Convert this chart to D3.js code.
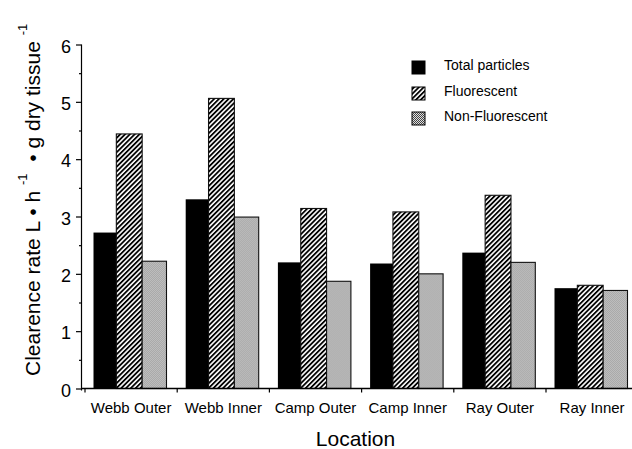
<!DOCTYPE html>
<html>
<head>
<meta charset="utf-8">
<script src="https://cdn.jsdelivr.net/npm/d3@7"></script>
<style>
  html, body { margin: 0; padding: 0; background: #fff; }
  svg { display: block; font-family: "Liberation Sans", Arial, Helvetica, sans-serif; }
</style>
</head>
<body>
<svg id="chart" width="632" height="449"></svg>
<script>
const locations = ["Webb Outer", "Webb Inner", "Camp Outer", "Camp Inner", "Ray Outer", "Ray Inner"];
const seriesNames = ["Total particles", "Fluorescent", "Non-Fluorescent"];
const totalParticles = [2.72, 3.30, 2.20, 2.18, 2.37, 1.75];
const fluorescent    = [4.44, 5.06, 3.14, 3.08, 3.37, 1.80];
const nonFluorescent = [2.22, 2.99, 1.87, 2.00, 2.20, 1.71];
const yTicks = [0, 1, 2, 3, 4, 5, 6];
const yMinorTicks = [0.5, 1.5, 2.5, 3.5, 4.5, 5.5];

const seriesValues = [totalParticles, fluorescent, nonFluorescent];
const fills = ["#000", "url(#hatch)", "url(#checker)"];
const legendFills = ["#000", "url(#hatch)", "url(#checkerStrong)"];

const svg = d3.select("#chart");
const defs = svg.append("defs");

// diagonal hatch "///"
const hatch = defs.append("pattern")
  .attr("id", "hatch").attr("patternUnits", "userSpaceOnUse")
  .attr("width", 3.4).attr("height", 3.4)
  .attr("patternTransform", "rotate(45)");
hatch.append("rect").attr("width", 3.4).attr("height", 3.4).attr("fill", "#fff");
hatch.append("rect").attr("width", 1.8).attr("height", 3.4).attr("fill", "#000");

// fine checker (grey)
const checker = defs.append("pattern")
  .attr("id", "checker").attr("patternUnits", "userSpaceOnUse")
  .attr("width", 2).attr("height", 2);
checker.append("rect").attr("width", 2).attr("height", 2).attr("fill", "#bdbdbd");
checker.append("rect").attr("width", 1).attr("height", 1).attr("fill", "#aaaaaa");
checker.append("rect").attr("x", 1).attr("y", 1).attr("width", 1).attr("height", 1).attr("fill", "#aaaaaa");

const checker2 = defs.append("pattern")
  .attr("id", "checkerStrong").attr("patternUnits", "userSpaceOnUse")
  .attr("width", 2).attr("height", 2);
checker2.append("rect").attr("width", 2).attr("height", 2).attr("fill", "#e0e0e0");
checker2.append("rect").attr("width", 1).attr("height", 1).attr("fill", "#444");
checker2.append("rect").attr("x", 1).attr("y", 1).attr("width", 1).attr("height", 1).attr("fill", "#444");

const y = d3.scaleLinear().domain([0, 6]).range([388.5, 44.5]);
const x0 = d3.scaleBand().domain(locations).range([85, 638.2]).padding(0);
const x1 = d3.scaleBand().domain(seriesNames).range([8.5, 81.5]).padding(0);

// bars
const groups = svg.append("g").selectAll("g")
  .data(locations).join("g")
  .attr("transform", d => `translate(${x0(d)},0)`);

seriesNames.forEach((s, si) => {
  groups.append("rect")
    .attr("x", x1(s) - (si === 1 ? 1.5 : 0))
    .attr("width", x1.bandwidth() + (si === 1 ? 1.5 : 0))
    .attr("y", (d, i) => y(seriesValues[si][i]))
    .attr("height", (d, i) => y(0) - y(seriesValues[si][i]))
    .attr("fill", fills[si])
    .attr("stroke", si === 0 ? "none" : "#111")
    .attr("stroke-width", si === 0 ? 0 : 1.1);
});

// y axis
const yAxis = svg.append("g").attr("transform", "translate(81.5,0)")
  .call(d3.axisLeft(y).tickValues(yTicks).tickFormat(d3.format("d")).tickSize(5.5).tickPadding(5));
yAxis.select(".domain").attr("d", `M0,${y(6)}V${y(0) + 2}`).attr("stroke", "#000").attr("stroke-width", 1.2);
yAxis.selectAll(".tick line").attr("stroke", "#000").attr("stroke-width", 1.2);
yAxis.selectAll(".tick text").attr("font-size", 18).attr("fill", "#000")
  .attr("font-family", "'Liberation Sans', Arial, sans-serif").attr("dy", "0.42em");

const yMinor = svg.append("g").attr("transform", "translate(81.5,0)")
  .call(d3.axisLeft(y).tickValues(yMinorTicks).tickFormat("").tickSize(2.5));
yMinor.select(".domain").remove();
yMinor.selectAll(".tick line").attr("stroke", "#000").attr("stroke-width", 1.2);

// x axis: labels
const xAxis = svg.append("g").attr("transform", `translate(0,${y(0)})`)
  .call(d3.axisBottom(x0).tickSize(0).tickPadding(14));
xAxis.select(".domain").attr("d", `M81,0H632`).attr("stroke", "#000").attr("stroke-width", 1.4);
xAxis.selectAll(".tick text").attr("font-size", 15).attr("fill", "#000")
  .attr("font-family", "'Liberation Sans', Arial, sans-serif");

// x axis boundary ticks
svg.append("g").selectAll("line")
  .data(locations).join("line")
  .attr("x1", d => x0(d)).attr("x2", d => x0(d))
  .attr("y1", y(0)).attr("y2", y(0) + 4)
  .attr("stroke", "#000").attr("stroke-width", 1.2);

// axis titles
svg.append("text")
  .attr("x", 355.5).attr("y", 446)
  .attr("text-anchor", "middle").attr("font-size", 21).attr("fill", "#000")
  .text("Location");

const yt = svg.append("text")
  .attr("transform", "translate(40,376) rotate(-90)")
  .attr("text-anchor", "start").attr("font-size", 21).attr("fill", "#000")
  .attr("xml:space", "preserve").style("white-space", "pre");
yt.append("tspan").text("Clearence rate L \u2022 h ");
yt.append("tspan").attr("font-size", 13).attr("dy", -13).text("-1");
yt.append("tspan").attr("dy", 13).text("  \u2022 g dry tissue ");
yt.append("tspan").attr("font-size", 13).attr("dy", -13).text("-1");

// legend
const legendY = [61, 87, 112];
const legend = svg.append("g");
seriesNames.forEach((s, i) => {
  legend.append("rect")
    .attr("x", 412).attr("y", legendY[i]).attr("width", 13).attr("height", 13)
    .attr("fill", legendFills[i]).attr("stroke", "#000").attr("stroke-width", 1);
  legend.append("text")
    .attr("x", 444).attr("y", legendY[i] + 8.5)
    .attr("font-size", 14).attr("fill", "#000")
    .text(s);
});
</script>
</body>
</html>
